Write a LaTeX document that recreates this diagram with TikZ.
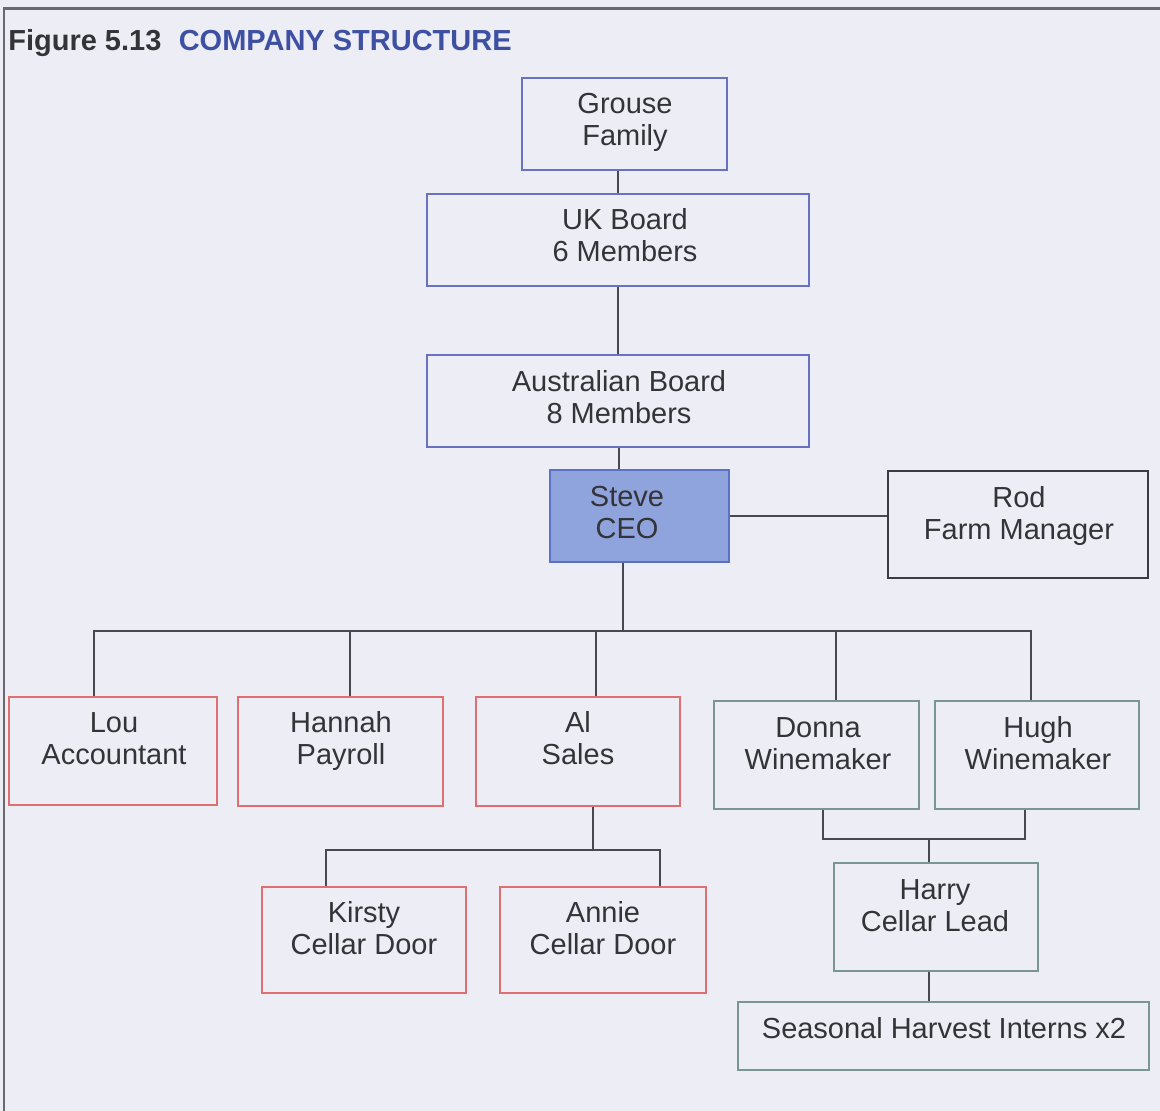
\documentclass[tikz,border=0pt]{standalone}
\usepackage{fontspec}
\setmainfont{Liberation Sans}
\usetikzlibrary{fit}
\definecolor{paper}{RGB}{237,237,245}
\definecolor{ink}{RGB}{52,52,56}
\definecolor{framegray}{RGB}{105,105,110}
\definecolor{linegray}{RGB}{72,72,78}
\definecolor{boardblue}{RGB}{104,114,192}
\definecolor{ceofill}{RGB}{143,163,220}
\definecolor{ceoedge}{RGB}{92,112,196}
\definecolor{staffred}{RGB}{224,112,112}
\definecolor{cellargreen}{RGB}{120,150,150}
\definecolor{farmgray}{RGB}{60,60,64}
\definecolor{titleblue}{RGB}{62,80,162}
\begin{document}
\begin{tikzpicture}[x=0.02cm,y=-0.02cm,
  orgbox/.style={inner sep=0pt, line width=0.04cm},
  boardbox/.style={orgbox, draw=boardblue},
  ceobox/.style={orgbox, draw=ceoedge, fill=ceofill},
  farmbox/.style={orgbox, draw=farmgray},
  staffbox/.style={orgbox, draw=staffred},
  cellarbox/.style={orgbox, draw=cellargreen},
  boxtext/.style={align=center, inner sep=0pt, text=ink,
    font=\fontsize{16.5}{18.2}\selectfont,
    execute at begin node=\strut, execute at end node=\strut},
  conn/.style={draw=linegray, line width=0.05cm}]

% page and frame
\fill[paper] (0,0) rectangle (1160,1111);
\useasboundingbox (0,0) rectangle (1160,1111);
\draw[framegray, line width=0.06cm] (4,1111) -- (4,9) -- (1160,9);

% title
\node[anchor=base west, inner sep=0pt, font=\fontsize{16.5}{18.2}\selectfont\bfseries] (title) at (8,51)
  {\textcolor{ink}{Figure 5.13}\hspace{0.6em}\textcolor{titleblue}{COMPANY STRUCTURE}};

% boxes
\node[boardbox, fit={(522,78) (727,170)}] (grouse) {};
\node[boxtext] (grouse-t) at (625,124) {Grouse\\Family};

\node[boardbox, fit={(427,194) (809,286)}] (uk) {};
\node[boxtext] (uk-t) at (625,240) {UK Board\\6 Members};

\node[boardbox, fit={(427,355) (809,447)}] (aus) {};
\node[boxtext] (aus-t) at (619,402) {Australian Board\\8 Members};

\node[ceobox, fit={(550,470) (729,562)}] (steve) {};
\node[boxtext] (steve-t) at (627,517) {Steve\\CEO};

\node[farmbox, fit={(888,471) (1148,578)}] (rod) {};
\node[boxtext] (rod-t) at (1019,518) {Rod\\Farm Manager};

\node[staffbox, fit={(9,697) (217,805)}] (lou) {};
\node[boxtext] (lou-t) at (114,743) {Lou\\Accountant};

\node[staffbox, fit={(238,697) (443,806)}] (hannah) {};
\node[boxtext] (hannah-t) at (341,743) {Hannah\\Payroll};

\node[staffbox, fit={(476,697) (680,806)}] (al) {};
\node[boxtext] (al-t) at (578,743) {Al\\Sales};

\node[cellarbox, fit={(714,701) (919,809)}] (donna) {};
\node[boxtext] (donna-t) at (818,748) {Donna\\Winemaker};

\node[cellarbox, fit={(935,701) (1139,809)}] (hugh) {};
\node[boxtext] (hugh-t) at (1038,748) {Hugh\\Winemaker};

\node[staffbox, fit={(262,887) (466,993)}] (kirsty) {};
\node[boxtext] (kirsty-t) at (364,933) {Kirsty\\Cellar Door};

\node[staffbox, fit={(500,887) (706,993)}] (annie) {};
\node[boxtext] (annie-t) at (603,933) {Annie\\Cellar Door};

\node[cellarbox, fit={(834,863) (1038,971)}] (harry) {};
\node[boxtext] (harry-t) at (935,910) {Harry\\Cellar Lead};

\node[cellarbox, fit={(738,1002) (1149,1070)}] (interns) {};
\node[boxtext] (interns-t) at (944,1032) {Seasonal Harvest Interns x2};

% connector columns and rails
\coordinate (colTop) at (618,0);
\coordinate (colAus) at (619,0);
\coordinate (colCeo) at (623,0);
\coordinate (colLou) at (94,0);
\coordinate (colHannah) at (350,0);
\coordinate (colAl) at (596,0);
\coordinate (colDonna) at (836,0);
\coordinate (busRight) at (1031,631);
\coordinate (colAlDown) at (593,0);
\coordinate (colKirsty) at (326,0);
\coordinate (doorRight) at (660,850);
\coordinate (colDonnaUp) at (823,0);
\coordinate (wineRight) at (1025,839);
\coordinate (colHarry) at (929,0);

% board chain
\draw[conn] (grouse.south -| colTop) -- (uk.north -| colTop);
\draw[conn] (uk.south -| colTop) -- (aus.north -| colTop);
\draw[conn] (aus.south -| colAus) -- (steve.north -| colAus);
\draw[conn] (steve.east) -- (steve.east -| rod.west);

% CEO to staff
\draw[conn] (steve.south -| colCeo) -- (colCeo |- busRight);
\draw[conn] (lou.north -| colLou) |- (busRight) -- (hugh.north -| busRight);
\draw[conn] (hannah.north -| colHannah) -- (colHannah |- busRight);
\draw[conn] (al.north -| colAl) -- (colAl |- busRight);
\draw[conn] (donna.north -| colDonna) -- (colDonna |- busRight);

% sales to cellar door
\draw[conn] (al.south -| colAlDown) -- (colAlDown |- doorRight);
\draw[conn] (kirsty.north -| colKirsty) |- (doorRight) -- (annie.north -| doorRight);

% winemakers to cellar lead and interns
\draw[conn] (donna.south -| colDonnaUp) |- (wineRight) -- (hugh.south -| wineRight);
\draw[conn] (harry.north -| colHarry) -- (colHarry |- wineRight);
\draw[conn] (harry.south -| colHarry) -- (interns.north -| colHarry);
\end{tikzpicture}
\end{document}
